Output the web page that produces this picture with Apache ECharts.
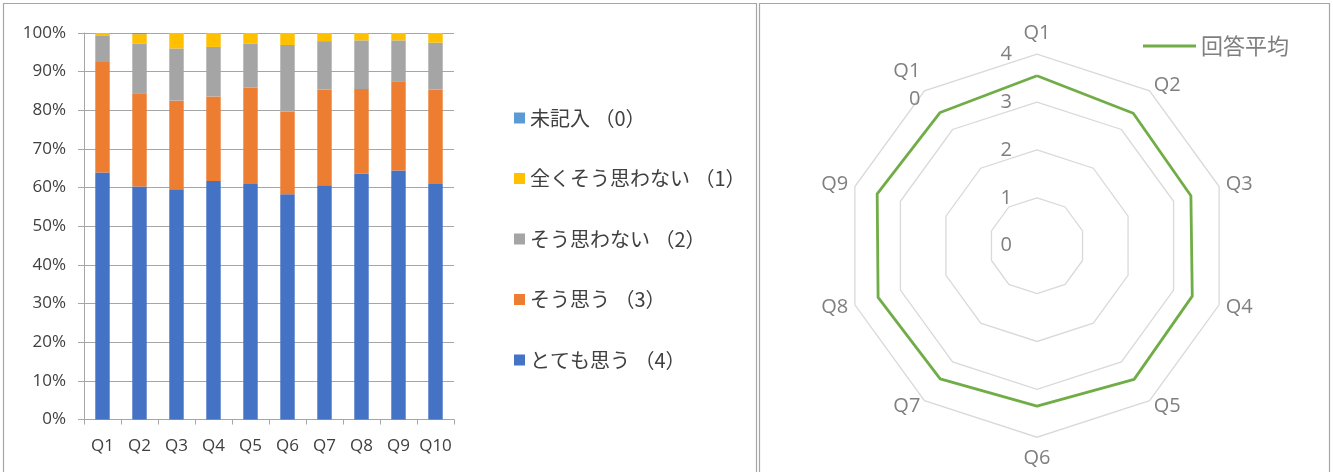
<!DOCTYPE html>
<html>
<head>
<meta charset="utf-8">
<script src="https://cdn.jsdelivr.net/npm/echarts@6/dist/echarts.min.js"></script>
<style>
html,body{margin:0;padding:0;background:#fff;}
#chart{width:1333px;height:472px;}
</style>
</head>
<body>
<div id="chart"></div>
<script>
// Questions on the survey
const questions = ['Q1', 'Q2', 'Q3', 'Q4', 'Q5', 'Q6', 'Q7', 'Q8', 'Q9', 'Q10'];

// Answer share per question (%)
const veryMuch         = [63.9, 60.3, 59.6, 61.7, 60.9, 58.3, 60.6, 63.6, 64.4, 60.9]; // とても思う（4）
const agree            = [28.6, 24.1, 22.9, 21.9, 25.0, 21.4, 24.8, 21.9, 23.1, 24.5]; // そう思う（3）
const disagree         = [6.9, 12.9, 13.5, 12.8, 11.4, 17.2, 12.5, 12.6, 10.6, 12.1];  // そう思わない（2）
const stronglyDisagree = [0.6, 2.4, 4.0, 3.6, 2.7, 3.1, 2.1, 1.9, 1.9, 2.5];          // 全くそう思わない（1）
const blank            = [0, 0.3, 0, 0, 0, 0, 0, 0, 0, 0];                            // 未記入（0）

// Mean answer score per question
const averageScore = [3.55, 3.42, 3.38, 3.41, 3.45, 3.35, 3.44, 3.49, 3.51, 3.44];

// Series names as shown in the legends
const nameBlank = '未記入 （0）';
const nameStronglyDisagree = '全くそう思わない （1）';
const nameDisagree = 'そう思わない （2）';
const nameAgree = 'そう思う （3）';
const nameVeryMuch = 'とても思う （4）';
const nameAverage = '回答平均';

const colors = {
  blank: '#5B9BD5',
  stronglyDisagree: '#FFC000',
  disagree: '#A5A5A5',
  agree: '#ED7D31',
  veryMuch: '#4472C4',
  average: '#70AD47'
};

const latin = "'Open Sans', 'Noto Sans', sans-serif";
const jp = "'Noto Sans CJK JP', 'Noto Sans', sans-serif";
const axisGrey = '#a6a6a6';

// Radar axes run counter-clockwise in ECharts; list them so Q2 lands on the right of Q1
const radarOrder = [0].concat(questions.map((_, i) => i).slice(1).reverse());

const chart = echarts.init(document.getElementById('chart'), null, { renderer: 'canvas' });

function barSeries(name, data, color) {
  return {
    name: name,
    type: 'bar',
    stack: 'answers',
    barWidth: '39%',
    data: data,
    itemStyle: { color: color },
    emphasis: { disabled: true }
  };
}

chart.setOption({
  animation: false,
  backgroundColor: '#ffffff',
  graphic: [
    { type: 'rect', shape: { x: 3.5, y: 3.5, width: 753, height: 500 }, style: { fill: 'none', stroke: '#a6a6a6', lineWidth: 1.2 }, silent: true },
    { type: 'rect', shape: { x: 759.5, y: 3.5, width: 570, height: 500 }, style: { fill: 'none', stroke: '#a6a6a6', lineWidth: 1.2 }, silent: true }
  ],
  grid: { left: 84, right: 879, top: 33, bottom: 52.5, containLabel: false },
  xAxis: {
    type: 'category',
    data: questions,
    axisLine: { lineStyle: { color: axisGrey, width: 1 } },
    axisTick: { show: true, length: 5, interval: 0, lineStyle: { color: axisGrey } },
    axisLabel: { color: '#404040', fontFamily: latin, fontSize: 17, margin: 18, interval: 0 }
  },
  yAxis: {
    type: 'value',
    min: 0,
    max: 100,
    interval: 10,
    axisLine: { show: true, lineStyle: { color: axisGrey, width: 1 } },
    axisTick: { show: true, length: 6, lineStyle: { color: axisGrey } },
    axisLabel: { color: '#404040', fontFamily: latin, fontSize: 17, margin: 18, formatter: '{value}%' },
    splitLine: { lineStyle: { color: axisGrey, width: 1 } }
  },
  legend: [
    {
      data: [nameBlank, nameStronglyDisagree, nameDisagree, nameAgree, nameVeryMuch],
      orient: 'vertical',
      left: 509,
      top: 103,
      itemWidth: 11,
      itemHeight: 11,
      itemGap: 40.5,
      icon: 'rect',
      selectedMode: false,
      textStyle: { color: '#404040', fontFamily: jp, fontSize: 20, lineHeight: 20, padding: [0, 0, 0, 0] }
    },
    {
      data: [{ name: nameAverage, icon: 'rect' }],
      left: 1138,
      top: 27,
      itemWidth: 53,
      itemHeight: 3,
      selectedMode: false,
      textStyle: { color: '#7f7f7f', fontFamily: jp, fontSize: 22, lineHeight: 28 }
    }
  ],
  radar: {
    center: [1037, 245.7],
    radius: 191.5,
    startAngle: 90,
    shape: 'polygon',
    splitNumber: 4,
    indicator: radarOrder.map((i, k) => {
      const ind = { name: questions[i], min: 0, max: 4 };
      if (k === 0) {
        ind.axisLabel = { show: true, color: '#7f7f7f', fontFamily: latin, fontSize: 20, margin: 25 };
      }
      return ind;
    }),
    axisName: {
      color: '#7f7f7f',
      fontFamily: latin,
      fontSize: 20,
      lineHeight: 28,
      formatter: (v) => (v === 'Q10' ? 'Q1\n0' : v)
    },
    nameGap: 7,
    axisLine: { show: false },
    axisTick: { show: false },
    axisLabel: { show: false },
    splitLine: { lineStyle: { color: '#d9d9d9', width: 1.3 } },
    splitArea: { show: false }
  },
  series: [
    barSeries(nameVeryMuch, veryMuch, colors.veryMuch),
    barSeries(nameAgree, agree, colors.agree),
    barSeries(nameDisagree, disagree, colors.disagree),
    barSeries(nameStronglyDisagree, stronglyDisagree, colors.stronglyDisagree),
    barSeries(nameBlank, blank, colors.blank),
    {
      name: nameAverage,
      type: 'radar',
      symbol: 'none',
      lineStyle: { color: colors.average, width: 2.8 },
      itemStyle: { color: colors.average },
      emphasis: { disabled: true },
      data: [{ name: nameAverage, value: radarOrder.map((i) => averageScore[i]) }]
    }
  ]
});
</script>
</body>
</html>
